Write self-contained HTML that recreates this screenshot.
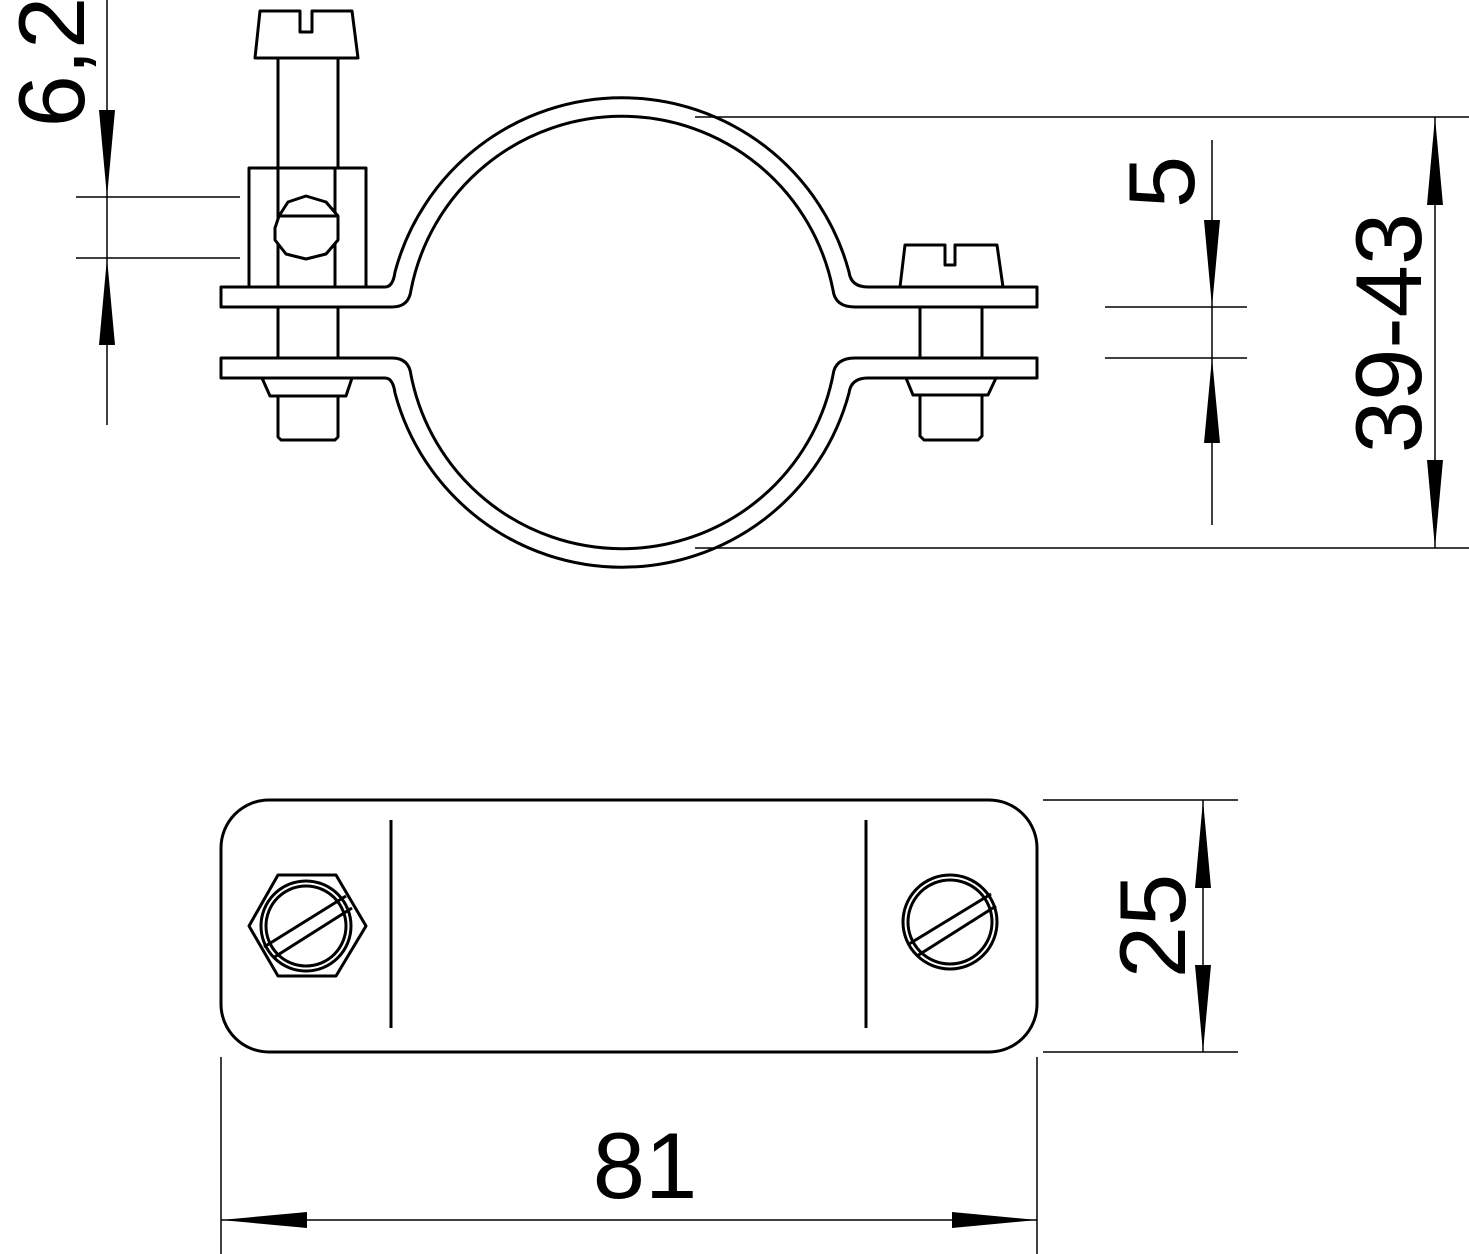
<!DOCTYPE html>
<html><head><meta charset="utf-8"><style>
html,body{margin:0;padding:0;background:#fff;}
svg{display:block;}
text{font-family:"Liberation Sans",sans-serif;fill:#000;}
</style></head><body>
<svg width="1469" height="1254" viewBox="0 0 1469 1254" xmlns="http://www.w3.org/2000/svg">
<g fill="none" stroke="#000" stroke-width="3" stroke-linejoin="round">
<!-- clamp body -->
<path d="M221,287 L385,287 Q393,287 395,272 A235,235 0 0 1 849,272 Q851,287 868,287 L1037,287 L1037,307 L855,307 Q835,307 833,290 A215,215 0 0 0 411,290 Q409,307 392,307 L221,307 Z" fill="#fff"/>
<path d="M221,378 L385,378 Q393,378 395,393 A235,235 0 0 0 849,393 Q851,378 868,378 L1037,378 L1037,358 L855,358 Q835,358 833,375 A215,215 0 0 1 411,375 Q409,358 392,358 L221,358 Z" fill="#fff"/>
<!-- left screw -->
<path d="M255,58 L260,11 L300,11 L300,32 L312,32 L312,11 L352,11 L358,58 Z"/>
<rect x="278" y="58" width="60" height="110"/>
<rect x="249" y="168" width="117" height="119"/>
<line x1="278" y1="168" x2="278" y2="287"/><line x1="335" y1="168" x2="335" y2="287"/>
<polygon points="306,196 326,202 338,216 338,240 326,254 306,259 286,254 275,240 275,228 279,216 288,202" fill="#fff"/>
<line x1="279" y1="216" x2="338" y2="216"/>
<rect x="278" y="307" width="60" height="51"/>
<path d="M262,378 L270,396 L346,396 L352,378"/>
<path d="M278,396 L278,437 L281,440 L335,440 L338,437 L338,396"/>
<!-- right screw -->
<path d="M900,287 L905,245 L945,245 L945,265 L955,265 L955,245 L997,245 L1003,287"/>
<rect x="920" y="307" width="62" height="51"/>
<path d="M906,378 L913,395 L988,395 L996,378"/>
<path d="M920,395 L920,436 L924,440 L978,440 L982,436 L982,395"/>
<!-- plan view -->
<rect x="221" y="800" width="816" height="252" rx="48" ry="48"/>
<line x1="391" y1="820" x2="391" y2="1028"/><line x1="866" y1="820" x2="866" y2="1028"/>
<polygon points="249,926 278,875 336,875 366,926 336,976 278,976"/>
<circle cx="306" cy="926" r="45"/><circle cx="306" cy="926" r="40"/>
<line x1="264" y1="947" x2="346" y2="896"/><line x1="273" y1="958" x2="352" y2="908"/>
<circle cx="950" cy="922" r="47"/><circle cx="950" cy="922" r="42"/>
<line x1="909" y1="944" x2="991" y2="894"/><line x1="917" y1="956" x2="996" y2="906"/>
</g>
<!-- dimension lines -->
<g stroke="#000" stroke-width="1.5" fill="none">
<line x1="107" y1="0" x2="107" y2="425"/>
<line x1="76" y1="197" x2="240" y2="197"/><line x1="76" y1="258" x2="240" y2="258"/>
<line x1="1212" y1="140" x2="1212" y2="525"/>
<line x1="1105" y1="307" x2="1247" y2="307"/><line x1="1105" y1="358" x2="1247" y2="358"/>
<line x1="1435" y1="117" x2="1435" y2="548"/>
<line x1="695" y1="117" x2="1469" y2="117"/><line x1="695" y1="548" x2="1469" y2="548"/>
<line x1="1203" y1="800" x2="1203" y2="1052"/>
<line x1="1043" y1="800" x2="1238" y2="800"/><line x1="1043" y1="1052" x2="1238" y2="1052"/>
<line x1="221" y1="1220" x2="1037" y2="1220"/>
<line x1="221" y1="1057" x2="221" y2="1254"/><line x1="1037" y1="1057" x2="1037" y2="1254"/>
</g>
<g fill="#000">
<polygon points="107,197 99,110 115,110"/>
<polygon points="107,258 99,345 115,345"/>
<polygon points="1212,307 1204,220 1220,220"/>
<polygon points="1212,358 1204,443 1220,443"/>
<polygon points="1435,117 1427,205 1443,205"/>
<polygon points="1435,548 1427,460 1443,460"/>
<polygon points="1203,800 1195,888 1211,888"/>
<polygon points="1203,1052 1195,965 1211,965"/>
<polygon points="221,1220 307,1212 307,1228"/>
<polygon points="1037,1220 952,1212 952,1228"/>
</g>
<!-- labels -->
<text x="0" y="0" font-size="94" text-anchor="middle" transform="translate(84,62) rotate(-90)">6,2</text>
<text x="0" y="0" font-size="94" text-anchor="middle" transform="translate(1194,182) rotate(-90)">5</text>
<text x="0" y="0" font-size="94" text-anchor="middle" transform="translate(1421,333) rotate(-90)">39-43</text>
<text x="0" y="0" font-size="94" text-anchor="middle" transform="translate(1185,926) rotate(-90)">25</text>
<text x="645" y="1198" font-size="94" text-anchor="middle">81</text>
</svg>
</body></html>
